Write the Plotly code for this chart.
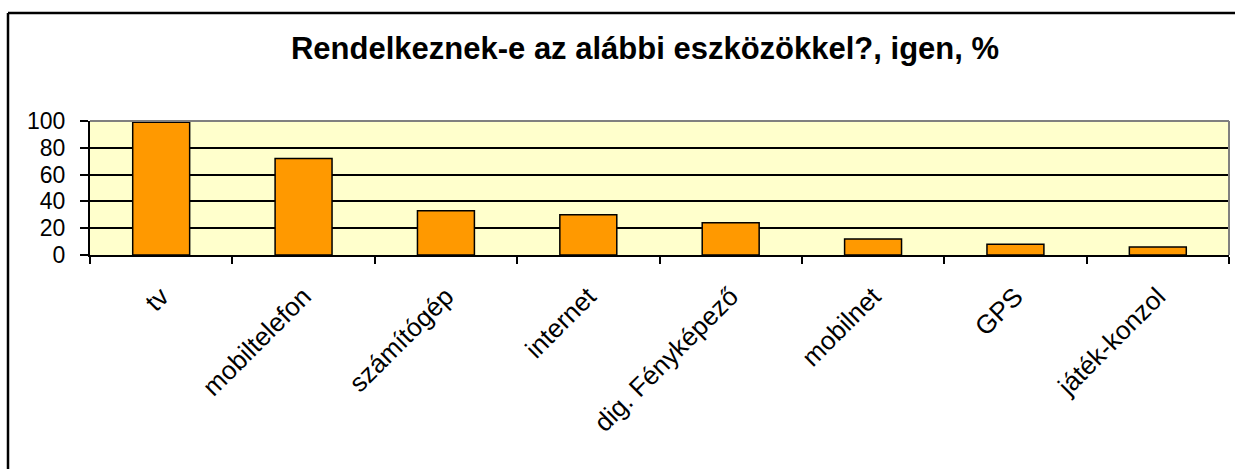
import plotly.graph_objects as go

categories = ["tv", "mobiltelefon", "számítógép", "internet", "dig. Fényképező", "mobilnet", "GPS", "játék-konzol"]
values = [99, 72, 33, 30, 24, 12, 8, 6]
y_ticks = [0, 20, 40, 60, 80, 100]
title_text = "Rendelkeznek-e az alábbi eszközökkel?, igen, %"

W, H = 1235, 469
L, R, T, B = 90, 6, 121, 214
pw, ph = W - L - R, H - T - B

def px_to_paper_x(px):
    return (px - L) / pw

def px_to_paper_y(py):
    return (H - B - py) / ph

FONT = "Arial, 'Liberation Sans', sans-serif"

fig = go.Figure(
    go.Bar(
        x=categories,
        y=values,
        marker=dict(color="#FF9900", line=dict(color="#000000", width=1.5)),
        hoverinfo="x+y",
    )
)

fig.update_layout(
    width=W,
    height=H,
    margin=dict(l=L, r=R, t=T, b=B),
    paper_bgcolor="#FFFFFF",
    plot_bgcolor="#FFFFCC",
    bargap=0.6,
    showlegend=False,
    title=dict(
        text="<b>" + title_text + "</b>",
        x=645 / W,
        xref="container",
        xanchor="center",
        y=1 - 48 / H,
        yref="container",
        yanchor="middle",
        font=dict(family=FONT, size=31, color="#000000"),
    ),
    font=dict(family=FONT, color="#000000"),
)

fig.update_xaxes(
    showline=True,
    linecolor="#000000",
    linewidth=2,
    ticks="outside",
    tickson="boundaries",
    ticklen=7,
    tickwidth=2,
    tickcolor="#000000",
    tickangle=-45,
    ticklabelstandoff=14,
    tickfont=dict(family=FONT, size=26, color="#000000"),
    showgrid=False,
)

fig.update_yaxes(
    range=[0, 100],
    tickvals=y_ticks,
    ticktext=[str(v) for v in y_ticks],
    showline=True,
    linecolor="#000000",
    linewidth=2,
    ticks="outside",
    ticklen=8,
    tickwidth=2,
    tickcolor="#000000",
    ticklabelstandoff=10,
    tickfont=dict(family=FONT, size=23, color="#000000"),
    showgrid=True,
    gridcolor="#000000",
    gridwidth=2,
    zeroline=False,
)

# plot-area top and right borders (gray)
fig.add_shape(type="line", xref="paper", yref="paper", x0=0, x1=1, y0=1, y1=1,
              line=dict(color="#808080", width=2), layer="above")
fig.add_shape(type="line", xref="paper", yref="paper", x0=1, x1=1, y0=0, y1=1,
              line=dict(color="#808080", width=2), layer="above")

# outer chart frame (left and top edges visible)
fx = px_to_paper_x(8)
fy = px_to_paper_y(13)
fig.add_shape(type="line", xref="paper", yref="paper", x0=fx, x1=px_to_paper_x(W + 10), y0=fy, y1=fy,
              line=dict(color="#000000", width=2.5), layer="above")
fig.add_shape(type="line", xref="paper", yref="paper", x0=fx, x1=fx, y0=fy, y1=px_to_paper_y(H + 10),
              line=dict(color="#000000", width=2.5), layer="above")

fig.write_html(
    "out.html",
    config={"displayModeBar": False},
    post_script="document.body.style.margin='0px';document.body.style.overflow='hidden';",
)
